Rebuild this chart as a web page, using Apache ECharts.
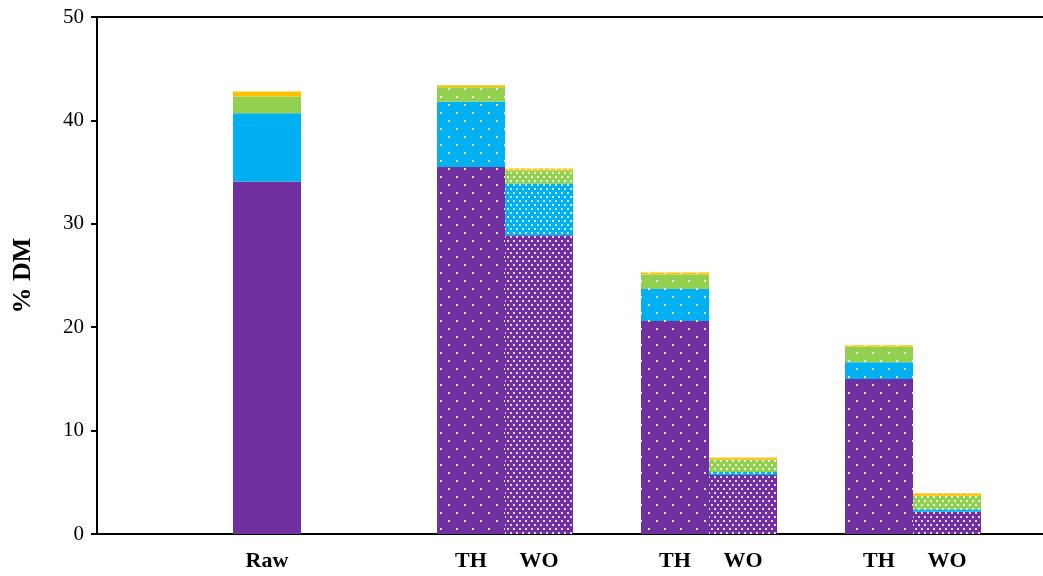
<!DOCTYPE html>
<html>
<head>
<meta charset="utf-8">
<script src="https://cdn.jsdelivr.net/npm/echarts@6/dist/echarts.min.js"></script>
<style>html,body{margin:0;padding:0;background:#fff;overflow:hidden}#c{width:1049px;height:576px}</style>
</head>
<body>
<div id="c"></div>
<script>
const categories = ['', '', 'Raw', '', '', 'TH', 'WO', '', 'TH', 'WO', '', 'TH', 'WO', ''];
const purpleVals = [null, null, 34.1, null, null, 35.5, 28.9, null, 20.6, 5.7, null, 15.0, 2.15, null];
const blueVals   = [null, null, 6.6,  null, null, 6.3,  5.0,  null, 3.1,  0.3, null, 1.6,  0.25, null];
const greenVals  = [null, null, 1.6,  null, null, 1.4,  1.25, null, 1.4,  1.2, null, 1.5,  1.3,  null];
const orangeVals = [null, null, 0.5,  null, null, 0.2,  0.2,  null, 0.2,  0.2, null, 0.15, 0.25, null];
const yTicks = [0, 10, 20, 30, 40, 50];

const sparseDecal = {
  symbol: 'rect', symbolSize: 1, symbolKeepAspect: false,
  color: 'rgba(255,255,255,0.85)',
  dashArrayX: [[2, 14], [0, 8, 2, 6]],
  dashArrayY: [2, 6]
};
const denseDecal = {
  symbol: 'rect', symbolSize: 1, symbolKeepAspect: false,
  color: 'rgba(255,255,255,0.8)',
  dashArrayX: [[2, 4], [0, 3, 2, 1]],
  dashArrayY: [2, 2]
};
function decalFor(cat) {
  if (cat === 'TH') return sparseDecal;
  if (cat === 'WO') return denseDecal;
  return null;
}
function build(vals) {
  return vals.map((v, i) => {
    if (v === null) return null;
    const d = decalFor(categories[i]);
    return d ? { value: v, itemStyle: { decal: d } } : { value: v };
  });
}
const seriesDefs = [
  { name: 'S1', color: '#7030A0', vals: purpleVals },
  { name: 'S2', color: '#00B0F0', vals: blueVals },
  { name: 'S3', color: '#92D050', vals: greenVals },
  { name: 'S4', color: '#FFC000', vals: orangeVals }
];

const chart = echarts.init(document.getElementById('c'));
chart.setOption({
  animation: false,
  backgroundColor: '#fff',
  grid: { left: 97, top: 17, right: 0, bottom: 42, containLabel: false },
  xAxis: [{
    type: 'category',
    data: categories,
    axisLine: { show: true, lineStyle: { color: '#000', width: 2 } },
    axisTick: { show: false },
    axisLabel: { interval: 0, color: '#000', fontFamily: 'Liberation Serif', fontWeight: 'bold', fontSize: 22, margin: 16 }
  }, {
    type: 'category',
    position: 'top',
    data: categories,
    axisLine: { show: true, lineStyle: { color: '#000', width: 2 } },
    axisTick: { show: false },
    axisLabel: { show: false }
  }],
  yAxis: {
    type: 'value',
    min: yTicks[0], max: yTicks[yTicks.length - 1], interval: 10,
    name: '% DM', nameLocation: 'middle', nameGap: 61, nameRotate: 90,
    nameTextStyle: { color: '#000', fontFamily: 'Liberation Serif', fontWeight: 'bold', fontSize: 26 },
    axisLine: { show: true, lineStyle: { color: '#000', width: 2 } },
    axisTick: { show: true, inside: false, length: 6, lineStyle: { color: '#000', width: 2 } },
    axisLabel: { color: '#000', fontFamily: 'Liberation Serif', fontSize: 21, margin: 13 },
    splitLine: { show: false }
  },
  series: seriesDefs.map(s => ({
    name: s.name,
    type: 'bar',
    stack: 'total',
    barCategoryGap: '0%',
    barWidth: '100%',
    itemStyle: { color: s.color },
    data: build(s.vals)
  }))
});
</script>
</body>
</html>
